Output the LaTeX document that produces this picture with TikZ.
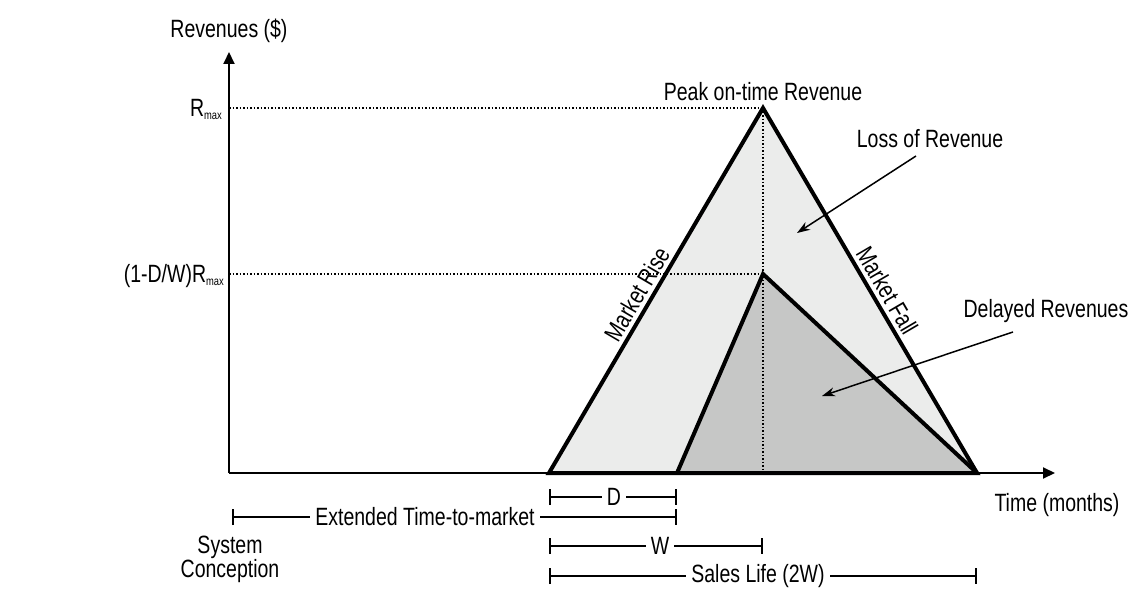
\documentclass[tikz,border=0pt]{standalone}
\usepackage{fontspec}
\setmainfont{Liberation Sans}[FakeStretch=0.78]
\usetikzlibrary{arrows.meta}
\definecolor{lightfill}{HTML}{EBECEB}
\definecolor{darkfill}{HTML}{C6C7C6}
\newcommand{\submax}{\raisebox{-3pt}{\fontsize{12}{12}\selectfont max}}
\begin{document}
\begin{tikzpicture}[x=1pt,y=-1pt,
  lbl/.style={font=\fontsize{25}{29}\selectfont, inner sep=0pt},
  barlbl/.style={lbl, fill=white, inner xsep=5pt, inner ysep=2pt},
  axisline/.style={line width=2pt, -{Triangle[length=12pt,width=11pt]}},
  edgeline/.style={line width=4pt, line join=miter, line cap=butt},
  guide/.style={dotted, line width=1.5pt},
  barline/.style={line width=1.8pt, {Bar[width=16pt]}-{Bar[width=16pt]}},
  ptr/.style={line width=1.5pt, -{Stealth[length=13pt,width=9pt]}}]
\useasboundingbox (0,0) rectangle (1144,602);
% coordinates
\coordinate (O) at (229,473);
\coordinate (Ytip) at (229,52);
\coordinate (Xtip) at (1055,473);
\coordinate (A) at (549,473);
\coordinate (P) at (763,108);
\coordinate (E) at (977,473);
\coordinate (S) at (677,473);
\coordinate (Q) at (763,274);
\coordinate (Ym) at (229,108);
\coordinate (Yd) at (229,274);
\coordinate (Qd) at (763,274);
\coordinate (Pb) at (763,473);
% axes
\draw[axisline] (O) -- (Ytip);
\draw[axisline] (O) -- (Xtip);
% fills
\fill[lightfill] (A) -- (P) -- (E) -- cycle;
\fill[darkfill] (S) -- (Q) -- (E) -- cycle;
% guides
\draw[guide] (Ym) -- (P);
\draw[guide] (Yd) -- (Qd);
\draw[guide] (P) -- (Pb);
% edges
\draw[edgeline] (A) -- (P) -- (E) -- cycle;
\draw[edgeline] (S) -- (Q) -- (E);
% axis labels
\node[lbl] (rev) at (229,31) {Revenues (\$)};
\node[lbl, anchor=base east] (rmax) at (222,117) {R\submax};
\node[lbl, anchor=base east] (rdel) at (224,282) {(1-D/W)R\submax};
\node[lbl, anchor=base] (time) at (1057,511) {Time (months)};
% triangle labels
\node[lbl, anchor=base] (peak) at (763,100) {Peak on-time Revenue};
\node[lbl, anchor=base, rotate=59.6] (rise) at (644.5,298.5) {Market Rise};
\node[lbl, anchor=base, rotate=-59.6] (fall) at (879.5,295) {Market Fall};
\node[lbl, anchor=base] (loss) at (930,147) {Loss of Revenue};
\node[lbl, anchor=base] (delay) at (1046,317) {Delayed Revenues};
\coordinate (lossS) at (916,156);
\coordinate (lossE) at (797,233);
\coordinate (delS) at (1013,332);
\coordinate (delE) at (822,396);
\draw[ptr] (lossS) -- (lossE);
\draw[ptr] (delS) -- (delE);
% bars
\coordinate (dL) at (549,497); \coordinate (dR) at (677,497);
\coordinate (tL) at (232,517); \coordinate (tR) at (677,517);
\coordinate (wL) at (549,546); \coordinate (wR) at (763,546);
\coordinate (sL) at (549,576); \coordinate (sR) at (977,576);
\draw[barline] (dL) -- (dR);
\draw[barline] (tL) -- (tR);
\draw[barline] (wL) -- (wR);
\draw[barline] (sL) -- (sR);
\node[barlbl] (dlbl) at (614,497) {D};
\node[barlbl] (tlbl) at (425,517) {Extended Time-to-market};
\node[barlbl] (wlbl) at (660,546) {W};
\node[barlbl] (slbl) at (758,576) {Sales Life (2W)};
\node[lbl, anchor=base] (sys1) at (230,553) {System};
\node[lbl, anchor=base] (sys2) at (230,577) {Conception};
\end{tikzpicture}
\end{document}
